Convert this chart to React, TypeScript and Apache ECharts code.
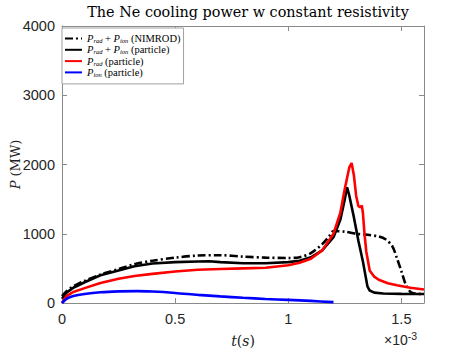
import React, { useEffect, useRef } from "react";
import * as echarts from "echarts";

// time in units of 1e-3 s
const tNimrod = [0, 0.02, 0.05, 0.1, 0.17, 0.25, 0.32, 0.4, 0.5, 0.6, 0.7, 0.8, 0.9, 1.0, 1.05, 1.1, 1.15, 1.18, 1.2, 1.25, 1.3, 1.35, 1.4, 1.43, 1.46, 1.48, 1.5, 1.52, 1.54, 1.56, 1.6];
const pNimrod = [100, 170, 240, 320, 410, 490, 560, 610, 655, 685, 690, 670, 655, 650, 660, 720, 850, 960, 1040, 1030, 1000, 985, 960, 920, 820, 650, 460, 260, 160, 135, 130];

const tTotal = [0, 0.02, 0.05, 0.1, 0.17, 0.25, 0.32, 0.4, 0.5, 0.6, 0.65, 0.7, 0.8, 0.9, 1.0, 1.05, 1.1, 1.15, 1.2, 1.23, 1.25, 1.26, 1.27, 1.29, 1.31, 1.33, 1.35, 1.36, 1.38, 1.42, 1.5, 1.6];
const pTotal = [60, 150, 220, 300, 400, 470, 530, 570, 590, 600, 602, 590, 575, 575, 590, 610, 660, 760, 950, 1200, 1500, 1670, 1550, 1240, 900, 600, 240, 180, 150, 138, 132, 130];

const tRad = [0, 0.02, 0.05, 0.1, 0.17, 0.25, 0.32, 0.4, 0.5, 0.6, 0.7, 0.8, 0.9, 1.0, 1.05, 1.1, 1.15, 1.2, 1.23, 1.25, 1.27, 1.28, 1.29, 1.3, 1.31, 1.32, 1.325, 1.33, 1.337, 1.345, 1.36, 1.38, 1.4, 1.44, 1.48, 1.54, 1.6];
const pRad = [0, 100, 160, 215, 290, 350, 390, 420, 455, 480, 490, 500, 510, 545, 580, 640, 760, 1000, 1300, 1650, 1960, 2020, 1850, 1550, 1400, 1380, 1410, 1300, 1000, 740, 470, 380, 335, 285, 255, 220, 195];

const tIon = [0, 0.02, 0.05, 0.1, 0.17, 0.25, 0.33, 0.4, 0.5, 0.6, 0.7, 0.8, 0.9, 1.0, 1.1, 1.2];
const pIon = [0, 60, 100, 130, 155, 168, 172, 165, 145, 118, 95, 75, 58, 45, 30, 12];

const xTicks = [0, 0.5, 1, 1.5];
const yTicks = [0, 1000, 2000, 3000, 4000];

const names = [
  "P_rad + P_ion (NIMROD)",
  "P_rad + P_ion (particle)",
  "P_rad (particle)",
  "P_ion (particle)",
];
const legendRich: Record<string, string> = {
  [names[0]]: "{i|P}{s|rad}{n| + }{i|P}{s|ion}{n| (NIMROD)}",
  [names[1]]: "{i|P}{s|rad}{n| + }{i|P}{s|ion}{n| (particle)}",
  [names[2]]: "{i|P}{s|rad}{n| (particle)}",
  [names[3]]: "{i|P}{s|ion}{n| (particle)}",
};

const zip = (a: number[], b: number[]) => a.map((v, i) => [v, b[i]]);

export default function App() {
  const ref = useRef<HTMLDivElement>(null);
  useEffect(() => {
    const chart = echarts.init(ref.current!, undefined, { renderer: "svg" });
    const serif = "DejaVu Serif";
    const lserif = "Liberation Serif";
    const axisGrey = "#8a8a8a";
    const tickLabel = { color: "#262626", fontFamily: "Liberation Sans", fontSize: 14.5 };
    const lw = 2.6;
    chart.setOption({
      animation: false,
      backgroundColor: "#fff",
      title: {
        text: "The Ne cooling power w constant resistivity",
        left: 243,
        top: 0,
        textAlign: "center",
        textStyle: { fontFamily: serif, fontWeight: "normal", fontSize: 14.4, color: "#000" },
      },
      grid: { left: 62, right: 45, top: 26, bottom: 49, outerBoundsMode: "none", containLabel: false },
      legend: {
        orient: "vertical",
        left: 62,
        top: 28,
        data: names,
        itemWidth: 17,
        itemHeight: 10,
        itemGap: 0.3,
        padding: [5, 3, 6, 2],
        borderColor: "#a0a0a0",
        borderWidth: 1,
        backgroundColor: "#fff",
        itemStyle: { opacity: 0 },
        formatter: (n: string) => legendRich[n],
        textStyle: {
          fontFamily: lserif,
          fontSize: 10.5,
          color: "#000",
          lineHeight: 10,
          rich: {
            i: { fontFamily: lserif, fontStyle: "italic", fontSize: 10.5, color: "#000", lineHeight: 10 },
            s: { fontFamily: lserif, fontStyle: "italic", fontSize: 6.5, color: "#000", lineHeight: 10, padding: [4, 0, 0, 0] },
            n: { fontFamily: lserif, fontSize: 10.5, color: "#000", lineHeight: 10 },
          },
        },
      },
      xAxis: [
        {
          type: "value",
          min: 0,
          max: 1.6,
          interval: 0.5,
          name: "{i|t}{n|(}{i|s}{n|)}",
          nameLocation: "middle",
          nameGap: 31,
          nameTextStyle: {
            rich: {
              i: { fontFamily: serif, fontStyle: "italic", fontSize: 14, color: "#222" },
              n: { fontFamily: serif, fontSize: 14, color: "#222" },
            },
          },
          axisLine: { show: true, onZero: false, lineStyle: { color: axisGrey, width: 1 } },
          axisTick: { show: true, inside: true, length: 5, lineStyle: { color: axisGrey } },
          axisLabel: { ...tickLabel, margin: 8, showMaxLabel: false, formatter: (v: number) => (xTicks.includes(v) ? String(v) : "") },
          splitLine: { show: false },
        },
        {
          type: "value",
          position: "top",
          min: 0,
          max: 1.6,
          interval: 0.5,
          axisLine: { show: true, onZero: false, lineStyle: { color: axisGrey, width: 1 } },
          axisTick: { show: true, inside: true, length: 5, lineStyle: { color: axisGrey } },
          axisLabel: { show: false },
          splitLine: { show: false },
        },
      ],
      yAxis: [
        {
          type: "value",
          min: 0,
          max: 4000,
          interval: 1000,
          name: "{i|P}{n| (MW)}",
          nameLocation: "middle",
          nameGap: 40,
          nameMoveOverlap: false,
          nameRotate: 90,
          nameTextStyle: {
            rich: {
              i: { fontFamily: serif, fontStyle: "italic", fontSize: 13, color: "#222" },
              n: { fontFamily: serif, fontSize: 13, color: "#222" },
            },
          },
          axisLine: { show: true, onZero: false, lineStyle: { color: axisGrey, width: 1 } },
          axisTick: { show: true, inside: true, length: 5, lineStyle: { color: axisGrey } },
          axisLabel: { ...tickLabel, margin: 7, formatter: (v: number) => (yTicks.includes(v) ? String(v) : "") },
          splitLine: { show: false },
        },
        {
          type: "value",
          position: "right",
          min: 0,
          max: 4000,
          interval: 1000,
          axisLine: { show: true, onZero: false, lineStyle: { color: axisGrey, width: 1 } },
          axisTick: { show: true, inside: true, length: 5, lineStyle: { color: axisGrey } },
          axisLabel: { show: false },
          splitLine: { show: false },
        },
      ],
      series: [
        {
          name: names[0],
          type: "line",
          data: zip(tNimrod, pNimrod),
          showSymbol: false,
          symbol: "none",
          smooth: 0.3,
          lineStyle: { color: "#000", width: lw, type: [8, 3, 2, 3] },
          itemStyle: { color: "#000" },
          z: 3,
        },
        {
          name: names[1],
          type: "line",
          data: zip(tTotal, pTotal),
          showSymbol: false,
          symbol: "none",
          lineStyle: { color: "#000", width: lw },
          itemStyle: { color: "#000" },
          z: 4,
        },
        {
          name: names[2],
          type: "line",
          data: zip(tRad, pRad),
          showSymbol: false,
          symbol: "none",
          lineStyle: { color: "#ff0000", width: lw },
          itemStyle: { color: "#ff0000" },
          z: 5,
        },
        {
          name: names[3],
          type: "line",
          data: zip(tIon, pIon),
          showSymbol: false,
          symbol: "none",
          smooth: 0.3,
          lineStyle: { color: "#0000ff", width: lw },
          itemStyle: { color: "#0000ff" },
          z: 6,
        },
      ],
      graphic: [
        {
          type: "text",
          left: 384,
          top: 330,
          style: {
            text: "×10{sup|-3}",
            fill: "#262626",
            font: "14px 'Liberation Sans'",
            rich: {
              sup: { fontFamily: "Liberation Sans", fontSize: 10.5, fill: "#262626", padding: [0, 0, 9, 0] },
            },
          },
        },
      ],
    });
    return () => chart.dispose();
  }, []);
  return <div ref={ref} style={{ position: "fixed", left: 0, top: 0, width: 469, height: 352 }} />;
}
